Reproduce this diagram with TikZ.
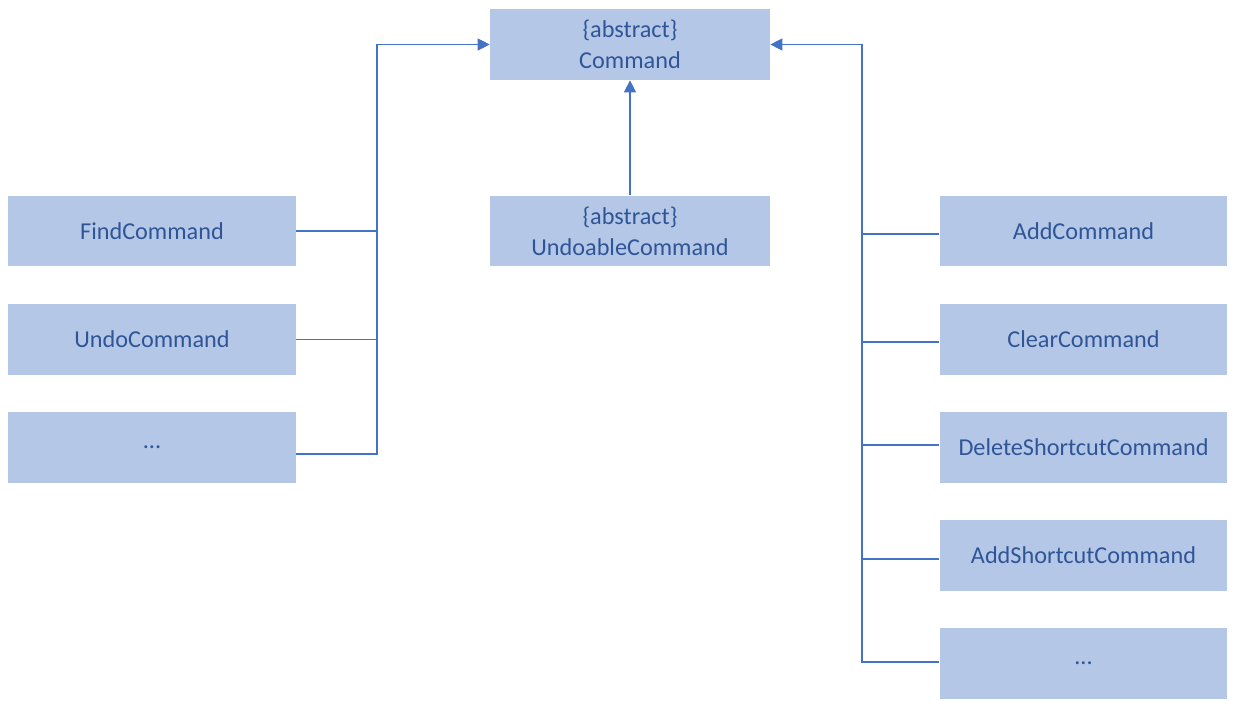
\documentclass[tikz,border=0pt]{standalone}
\usepackage{fontspec}
\setmainfont{Carlito}
\usepackage{tikz}
\usetikzlibrary{arrows.meta}
\usetikzlibrary{positioning}
\definecolor{boxfill}{HTML}{B4C7E7}
\definecolor{boxtext}{HTML}{2F5597}
\definecolor{linkline}{HTML}{4472C4}
\tikzstyle{cls}=[rectangle, fill=boxfill, text=boxtext, align=center,
    font=\fontsize{13.8}{17.5}\selectfont, inner sep=0pt]
\tikzstyle{cls_mid}=[cls, minimum width=5.6cm, minimum height=1.42cm]
\tikzstyle{cls_side}=[cls, minimum width=5.76cm, minimum height=1.42cm]
\tikzstyle{link}=[draw=linkline, line width=0.6pt]
\tikzstyle{inherit}=[link, -{Triangle[length=0.24cm, width=0.24cm]}]

\begin{document}
\begin{tikzpicture}[x=0.02cm, y=-0.02cm]
          \useasboundingbox (0,0) rectangle (1236,706);
          \node[cls_mid] (cmd0) at (630,44.5){\{abstract\}\\Command};
          \node[cls_mid] (cmd1) at (630,231){\{abstract\}\\UndoableCommand};
          \draw[inherit](cmd1) -- (cmd0);
          % left side
          \node[cls_side] (lft0) at (152,231){FindCommand};
          \node[cls_side] (lft1) at (152,339.5){UndoCommand};
          \node[cls_side] (lft2) at (152,447.5){...};
          \coordinate (lbus) at (377,44.5);
          \draw[link](lft0.east) -- (lft0.east -| lbus);
          \draw[link](lft1.east) -- (lft1.east -| lbus);
          \draw[inherit]([yshift=-0.13cm]lft2.east) -| (lbus) -- (cmd0.west);
          % right side
          \node[cls_side] (rgt0) at (1083.5,231){AddCommand};
          \node[cls_side] (rgt1) at (1083.5,339.5){ClearCommand};
          \node[cls_side] (rgt2) at (1083.5,447.5){DeleteShortcutCommand};
          \node[cls_side] (rgt3) at (1083.5,555.5){AddShortcutCommand};
          \node[cls_side] (rgt4) at (1083.5,663.5){...};
          \coordinate (rbus) at (862,44.5);
          \draw[link]([yshift=-0.06cm]rgt0.west) -- ([yshift=-0.06cm]rgt0.west -| rbus);
          \draw[link]([yshift=-0.05cm]rgt1.west) -- ([yshift=-0.05cm]rgt1.west -| rbus);
          \draw[link]([yshift=0.05cm]rgt2.west) -- ([yshift=0.05cm]rgt2.west -| rbus);
          \draw[link]([yshift=-0.07cm]rgt3.west) -- ([yshift=-0.07cm]rgt3.west -| rbus);
          \draw[inherit]([yshift=0.03cm]rgt4.west) -| (rbus) -- (cmd0.east);
        \end{tikzpicture}
\end{document}
